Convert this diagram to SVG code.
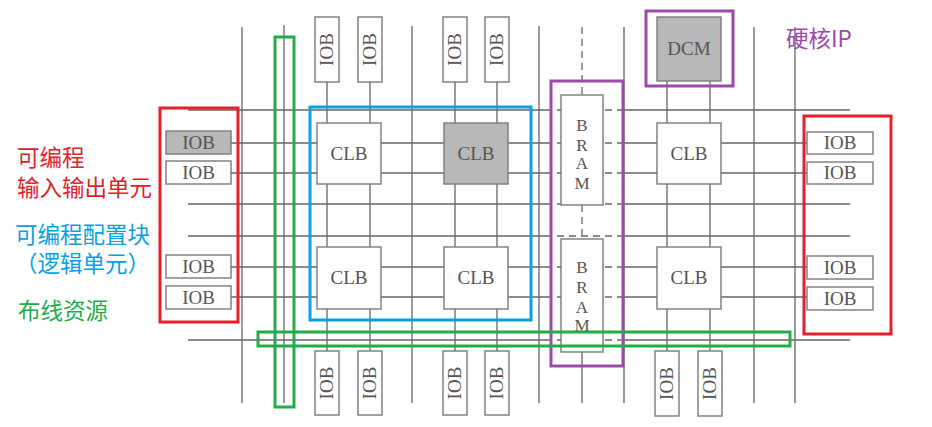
<svg xmlns="http://www.w3.org/2000/svg" width="932" height="427" viewBox="0 0 932 427">
<style>
.g{stroke:#666;stroke-width:1.3;fill:none}
.d{stroke:#666;stroke-width:1.3;fill:none;stroke-dasharray:7 5}
.box{fill:#fff;stroke:#7a7a7a;stroke-width:1.4}
.gray{fill:#b8b8b8;stroke:#7a7a7a;stroke-width:1.4}
.t{font-family:"Liberation Serif","DejaVu Serif",serif;font-size:19px;fill:#555;text-anchor:middle}
.bt{font-family:"Liberation Serif","DejaVu Serif",serif;font-size:17px;fill:#555;text-anchor:middle}
.lab{font-family:"Noto Sans CJK SC","Noto Sans",sans-serif;font-size:22.5px}
.hl{fill:none;stroke-width:3}
</style>
<rect width="932" height="427" fill="#fff"/>
<g id="connectors">
<path class="g" d="M188 110H545M620 110H850M231 143H545M620 143H807M231 173H545M620 173H807M188 204H545M620 204H850M188 236H545M620 236H850M231 267H545M620 267H807M231 297H545M620 297H807M188 340H545M620 340H850"/>
<path class="d" d="M545 110H620M545 143H620M545 173H620M545 204H620M545 236H620M545 267H620M545 297H620M545 340H620"/>
<path class="g" d="M242 27V403M284 25V403M327 82V351M370 82V351M412 26V403M455 82V351M497 82V351M539 26V403M624 27V403M667 81V351M710 81V351M754 27V403M795 27V403M582 352V403"/>
<path class="d" d="M582 27V95M582 205V239"/>
</g>
<g id="iob-left-1"><rect class="gray" x="166" y="131" width="65" height="23"/><text class="t" x="198.5" y="149">IOB</text></g>
<g id="iob-left-2"><rect class="box" x="166" y="161" width="65" height="23"/><text class="t" x="198.5" y="179">IOB</text></g>
<g id="iob-left-3"><rect class="box" x="166" y="255" width="65" height="23"/><text class="t" x="198.5" y="273">IOB</text></g>
<g id="iob-left-4"><rect class="box" x="166" y="286" width="65" height="23"/><text class="t" x="198.5" y="304">IOB</text></g>
<g id="iob-right-1"><rect class="box" x="807" y="132" width="66" height="22"/><text class="t" x="840" y="149">IOB</text></g>
<g id="iob-right-2"><rect class="box" x="807" y="162" width="66" height="22"/><text class="t" x="840" y="179">IOB</text></g>
<g id="iob-right-3"><rect class="box" x="807" y="256" width="66" height="23"/><text class="t" x="840" y="274">IOB</text></g>
<g id="iob-right-4"><rect class="box" x="807" y="287" width="66" height="23"/><text class="t" x="840" y="305">IOB</text></g>
<g id="iob-top-1"><rect class="box" x="315" y="17" width="24" height="65"/><text class="t" x="327" y="55.5" transform="rotate(-90 327 49.5)">IOB</text></g>
<g id="iob-top-2"><rect class="box" x="358" y="17" width="24" height="65"/><text class="t" x="370" y="55.5" transform="rotate(-90 370 49.5)">IOB</text></g>
<g id="iob-top-3"><rect class="box" x="443" y="17" width="24" height="65"/><text class="t" x="455" y="55.5" transform="rotate(-90 455 49.5)">IOB</text></g>
<g id="iob-top-4"><rect class="box" x="485" y="17" width="24" height="65"/><text class="t" x="497" y="55.5" transform="rotate(-90 497 49.5)">IOB</text></g>
<g id="iob-bot-1"><rect class="box" x="315" y="351" width="24" height="64"/><text class="t" x="327" y="389" transform="rotate(-90 327 383)">IOB</text></g>
<g id="iob-bot-2"><rect class="box" x="358" y="351" width="24" height="64"/><text class="t" x="370" y="389" transform="rotate(-90 370 383)">IOB</text></g>
<g id="iob-bot-3"><rect class="box" x="443" y="351" width="24" height="64"/><text class="t" x="455" y="389" transform="rotate(-90 455 383)">IOB</text></g>
<g id="iob-bot-4"><rect class="box" x="485" y="351" width="24" height="64"/><text class="t" x="497" y="389" transform="rotate(-90 497 383)">IOB</text></g>
<g id="iob-bot-5"><rect class="box" x="655" y="351" width="24" height="65"/><text class="t" x="667" y="389.5" transform="rotate(-90 667 383.5)">IOB</text></g>
<g id="iob-bot-6"><rect class="box" x="698" y="351" width="24" height="65"/><text class="t" x="710" y="389.5" transform="rotate(-90 710 383.5)">IOB</text></g>
<g id="clb-1"><rect class="box" x="317" y="123" width="64" height="61"/><text class="t" x="349" y="160">CLB</text></g>
<g id="clb-2"><rect class="gray" x="444" y="123" width="64" height="61"/><text class="t" x="476" y="160">CLB</text></g>
<g id="clb-3"><rect class="box" x="657" y="123" width="64" height="61"/><text class="t" x="689" y="160">CLB</text></g>
<g id="clb-4"><rect class="box" x="317" y="247" width="64" height="62"/><text class="t" x="349" y="284">CLB</text></g>
<g id="clb-5"><rect class="box" x="444" y="247" width="64" height="62"/><text class="t" x="476" y="284">CLB</text></g>
<g id="clb-6"><rect class="box" x="657" y="247" width="64" height="62"/><text class="t" x="689" y="284">CLB</text></g>
<g id="dcm"><rect class="gray" x="657" y="17" width="64" height="64"/><text class="t" x="689" y="55">DCM</text></g>
<g id="bram-1"><rect class="box" x="561" y="95" width="42" height="110"/><text class="bt" x="582" y="131">B</text><text class="bt" x="582" y="151">R</text><text class="bt" x="582" y="169">A</text><text class="bt" x="582" y="189">M</text></g>
<g id="bram-2"><rect class="box" x="561" y="239" width="42" height="113"/><text class="bt" x="582" y="273">B</text><text class="bt" x="582" y="293">R</text><text class="bt" x="582" y="313">A</text><text class="bt" x="582" y="331">M</text></g>
<g id="highlights">
<rect class="hl" x="160" y="108" width="78" height="214" stroke="#e5202b"/>
<rect class="hl" x="804" y="116" width="87" height="218" stroke="#e5202b"/>
<rect class="hl" x="310" y="107" width="221" height="213" stroke="#0aa0e4"/>
<rect class="hl" x="551" y="81" width="72" height="285" stroke="#9b4aa8"/>
<rect class="hl" x="646" y="11" width="87" height="75" stroke="#9b4aa8"/>
<rect class="hl" x="275" y="37" width="19" height="370" stroke="#22ad48"/>
<rect class="hl" x="258" y="332" width="532" height="14" stroke="#22ad48"/>
</g>
<g id="labels">
<text class="lab" x="17" y="166" fill="#e5202b">可编程</text>
<text class="lab" x="17" y="196" fill="#e5202b">输入输出单元</text>
<text class="lab" x="15" y="243" fill="#0aa0e4">可编程配置块</text>
<text class="lab" x="15" y="272" fill="#0aa0e4">（逻辑单元）</text>
<text class="lab" x="18" y="319" fill="#22ad48">布线资源</text>
<text class="lab" x="786" y="47" fill="#9b4aa8">硬核IP</text>
</g>
</svg>
